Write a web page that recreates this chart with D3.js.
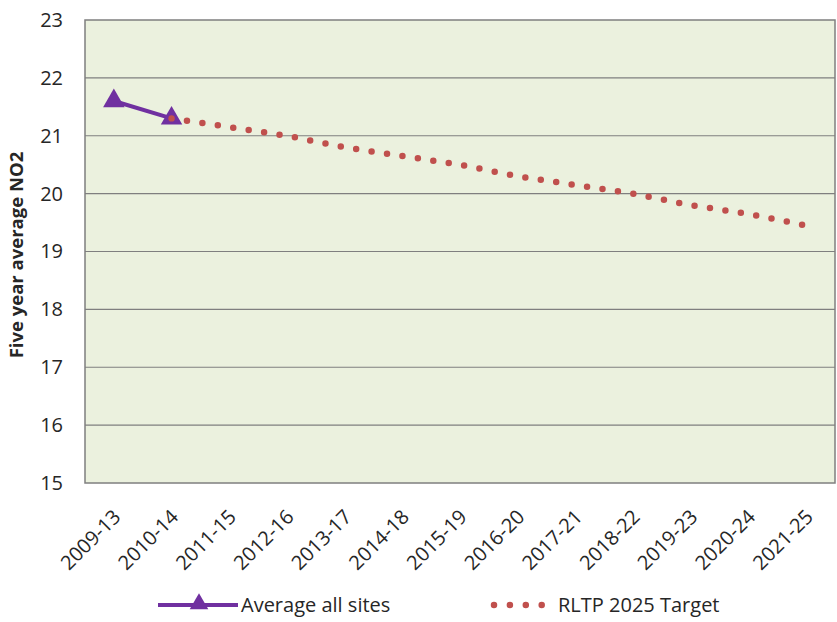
<!DOCTYPE html>
<html><head><meta charset="utf-8">
<script src="https://cdn.jsdelivr.net/npm/d3@7"></script>
<style>body{margin:0;background:#fff;} text{font-family:"Open Sans","Noto Sans",sans-serif;fill:#262626;}</style>
</head><body><svg id="c" width="837" height="622"></svg>
<script>
const categories = ["2009-13","2010-14","2011-15","2012-16","2013-17","2014-18","2015-19","2016-20","2017-21","2018-22","2019-23","2020-24","2021-25"];
const averageAllSites = [21.6, 21.3, null, null, null, null, null, null, null, null, null, null, null];
const rltpTarget = [null, 21.3, 21.15, 21.0, 20.8, 20.65, 20.5, 20.3, 20.15, 20.0, 19.8, 19.65, 19.45];
const yTicks = [15,16,17,18,19,20,21,22,23];

const svg = d3.select("#c");
const m = {l:85, r:835, t:20, b:483};
const x = d3.scaleBand().domain(categories).range([m.l, m.r]);
const y = d3.scaleLinear().domain([15,23]).range([m.b, m.t]);
const cx = c => x(c) + x.bandwidth()/2;

svg.append("rect").attr("x",m.l).attr("y",m.t).attr("width",m.r-m.l).attr("height",m.b-m.t).attr("fill","#EBF1DE");
svg.append("g").selectAll("line").data(yTicks.slice(1,-1)).join("line")
  .attr("x1",m.l).attr("x2",m.r).attr("y1",d=>y(d)).attr("y2",d=>y(d)).attr("stroke","#7f7f7f").attr("stroke-width",1.2);
svg.append("rect").attr("x",m.l).attr("y",m.t).attr("width",m.r-m.l).attr("height",m.b-m.t).attr("fill","none").attr("stroke","#7f7f7f").attr("stroke-width",1.5);

// y axis
const ya = svg.append("g").attr("transform",`translate(${m.l},0)`).call(d3.axisLeft(y).tickValues(yTicks).tickSize(0).tickPadding(22));
ya.select(".domain").remove();
ya.selectAll("text").style("font-size","20px").attr("fill","#333");

// x axis
const xa = svg.append("g").attr("transform",`translate(0,${m.b})`).call(d3.axisBottom(x).tickSize(0));
xa.select(".domain").remove();
xa.selectAll("text").style("font-size","20px").attr("fill","#222")
  .attr("text-anchor","end").attr("dx",0).attr("dy",0)
  .attr("transform","translate(6,33) rotate(-45)");

svg.append("text").attr("transform","translate(23,255) rotate(-90)").attr("text-anchor","middle")
  .style("font-size","18.5px").style("font-weight","bold").attr("fill","#111").text("Five year average NO2");

// target dotted line
const tData = categories.map((c,i)=>({c,v:rltpTarget[i]})).filter(d=>d.v!=null);
const line = d3.line().x(d=>cx(d.c)).y(d=>y(d.v));
svg.append("path").attr("d",line(tData)).attr("fill","none").attr("stroke","#C0504D")
  .attr("stroke-width",6.5).attr("stroke-linecap","round").attr("stroke-dasharray","0 15.6");

// average line
const aData = categories.map((c,i)=>({c,v:averageAllSites[i]})).filter(d=>d.v!=null);
svg.append("path").attr("d",line(aData)).attr("fill","none").attr("stroke","#7030A0").attr("stroke-width",4);
const tri = d3.symbol().type(d3.symbolTriangle).size(200);
svg.append("g").selectAll("path").data(aData).join("path").attr("d",tri)
  .attr("transform",d=>`translate(${cx(d.c)},${y(d.v)})`).attr("fill","#7030A0");
svg.append("circle").attr("cx",cx(tData[0].c)).attr("cy",y(tData[0].v)).attr("r",3.2).attr("fill","#C0504D");

// legend
const ly = 605;
svg.append("line").attr("x1",158).attr("x2",238).attr("y1",ly).attr("y2",ly).attr("stroke","#7030A0").attr("stroke-width",4);
svg.append("path").attr("d",d3.symbol().type(d3.symbolTriangle).size(150)).attr("transform",`translate(199,${ly-1})`).attr("fill","#7030A0");
svg.append("text").attr("x",241).attr("y",ly+7).style("font-size","20px").text("Average all sites");
svg.append("line").attr("x1",494).attr("x2",542).attr("y1",ly).attr("y2",ly).attr("stroke","#C0504D")
  .attr("stroke-width",6.5).attr("stroke-linecap","round").attr("stroke-dasharray","0 15.9");
svg.append("text").attr("x",558).attr("y",ly+7).style("font-size","20px").text("RLTP 2025 Target");
</script></body></html>
